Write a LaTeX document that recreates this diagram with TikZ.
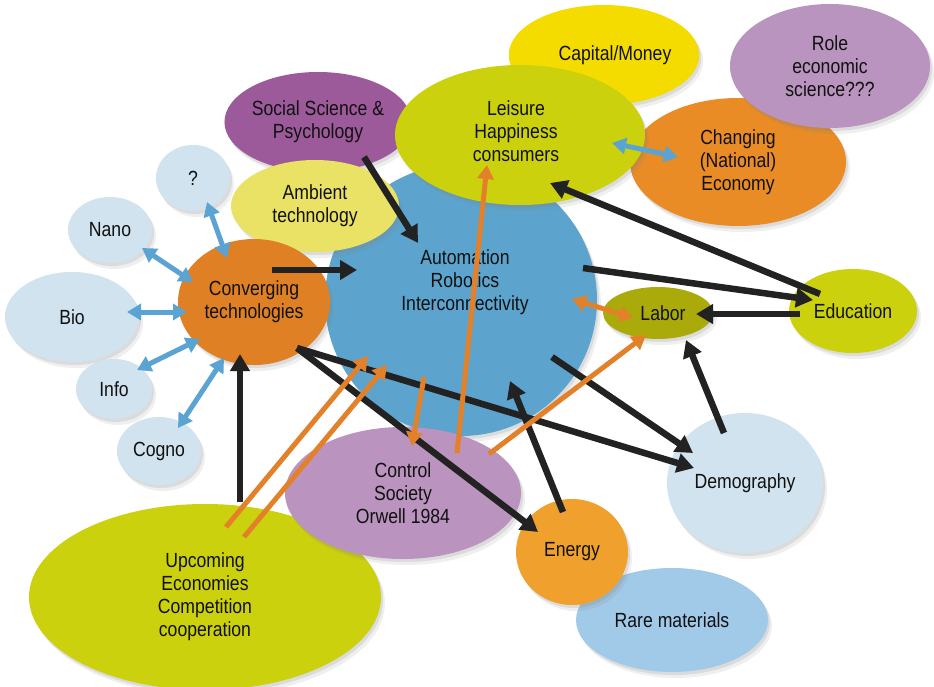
\documentclass[tikz,border=0pt]{standalone}
\usepackage{fontspec}
\setmainfont{Liberation Sans}[FakeStretch=0.86]
\usetikzlibrary{shapes.geometric,arrows.meta,shadows}
\definecolor{txt}{HTML}{111111}
\definecolor{cCap}{HTML}{F4DC00}
\definecolor{cRole}{HTML}{B994BE}
\definecolor{cChg}{HTML}{E98C26}
\definecolor{cLeis}{HTML}{CCD10E}
\definecolor{cSoc}{HTML}{9C5A9A}
\definecolor{cAmb}{HTML}{E9E264}
\definecolor{cAuto}{HTML}{5CA4CE}
\definecolor{cLight}{HTML}{D0E3EE}
\definecolor{cConv}{HTML}{E08024}
\definecolor{cLabor}{HTML}{AAAA0B}
\definecolor{cCtrl}{HTML}{BA94BE}
\definecolor{cEnergy}{HTML}{F0A02C}
\definecolor{cRare}{HTML}{A1C9E8}
\definecolor{aBlack}{HTML}{222222}
\definecolor{aOrange}{HTML}{E3812A}
\definecolor{aBlue}{HTML}{5AA3D2}
\begin{document}
\begin{tikzpicture}[x=1pt,y=-1pt,
  blob/.style={ellipse, inner sep=0pt, align=center, text=txt,
    font=\fontsize{20.5}{23}\selectfont,
    drop shadow={shadow xshift=2pt,shadow yshift=-3pt,opacity=.18},
    drop shadow={shadow xshift=4pt,shadow yshift=-6pt,opacity=.12}},
  lbl/.style={align=center, text=txt, inner sep=0pt, font=\fontsize{20.5}{23}\selectfont},
  blk/.style={draw=aBlack, line width=6.5pt, -{Triangle[length=17pt,width=19pt]}},
  org/.style={draw=aOrange, line width=5pt, -{Triangle[length=14pt,width=16pt]}},
  orgd/.style={draw=aOrange, line width=5pt, {Triangle[length=14pt,width=16pt]}-{Triangle[length=14pt,width=16pt]}},
  blu/.style={draw=aBlue, line width=5pt, {Triangle[length=14pt,width=16pt]}-{Triangle[length=14pt,width=16pt]}}
]
\useasboundingbox (0,0) rectangle (934,687);
\fill[white] (0,0) rectangle (934,687);

% back layer
\node[blob, fill=cCap, minimum width=168pt, minimum height=100pt] (cap) at (604,55) {\hspace*{22pt}Capital/Money};
\node[blob, fill=cChg, minimum width=216pt, minimum height=128pt] (chg) at (738,162) {Changing\\(National)\\Economy};
\node[blob, fill=cRole, minimum width=200pt, minimum height=124pt] (role) at (830,66) {Role\\economic\\science???};
\node[blob, fill=cSoc, minimum width=180pt, minimum height=100pt] (soc) at (318,122) {Social Science \&\\Psychology};
\node[blob, circle, fill=cAuto, minimum size=272pt] (auto) at (461,300) {};
\node[blob, fill=cAmb, minimum width=168pt, minimum height=92pt] (amb) at (315,206) {Ambient\\technology};
\node[blob, fill=cLeis, minimum width=250pt, minimum height=140pt] (leis) at (520,135) {};
\node[lbl] (leistxt) at (516,131) {Leisure\\Happiness\\consumers};
\node[lbl] (autotxt) at (465,282) {Automation\\Robotics\\Interconnectivity};

\node[blob, fill=cConv, minimum width=152pt, minimum height=126pt] (conv) at (254,302) {Converging\\technologies};
\node[blob, fill=cLight, minimum width=74pt, minimum height=66pt] (q) at (193,178) {?};
\node[blob, fill=cLight, minimum width=84pt, minimum height=66pt] (nano) at (110,230) {Nano};
\node[blob, fill=cLight, minimum width=134pt, minimum height=90pt] (bio) at (72,317) {Bio};
\node[blob, fill=cLight, minimum width=76pt, minimum height=60pt] (info) at (114,389) {Info};
\node[blob, fill=cLight, minimum width=84pt, minimum height=68pt] (cogno) at (159,451) {Cogno};

\node[blob, fill=cLeis, minimum width=352pt, minimum height=186pt] (upc) at (205,597) {Upcoming\\Economies\\Competition\\cooperation};
\node[blob, fill=cCtrl, minimum width=236pt, minimum height=132pt] (ctrl) at (403,493) {Control\\Society\\Orwell 1984};
\node[blob, fill=cLabor, minimum width=110pt, minimum height=52pt] (labor) at (658,313) {\hspace*{10pt}Labor};
\node[blob, fill=cLeis, minimum width=128pt, minimum height=84pt] (edu) at (853,311) {Education};
\node[blob, fill=cLight, minimum width=156pt, minimum height=140pt] (demo) at (745,483) {Demography};
\node[blob, fill=cRare, minimum width=192pt, minimum height=104pt] (rare) at (672,620) {Rare materials};
\node[blob, fill=cEnergy, minimum width=112pt, minimum height=106pt] (energy) at (572,552) {Energy};

% blue double arrows
\draw[blu] ([shift={(14,24)}]q.center) -- ([shift={(-27,-44)}]conv.center);
\draw[blu] ([shift={(32,18)}]nano.center) -- ([shift={(-61,-20)}]conv.center);
\draw[blu] ([shift={(55,-5)}]bio.center) -- ([shift={(-67,10)}]conv.center);
\draw[blu] ([shift={(23,-19)}]info.center) -- ([shift={(-54,37)}]conv.center);
\draw[blu] ([shift={(19,-23)}]cogno.center) -- ([shift={(-30,56)}]conv.center);
\draw[blu] ([shift={(92,8)}]leis.center) -- ([shift={(-60,-5)}]chg.center);

% black arrows
\draw[blk] ([shift={(18,-32)}]conv.center) -- ([shift={(-104,-30)}]auto.center);
\draw[blk] ([shift={(46,35)}]soc.center) -- ([shift={(-43,-57)}]auto.center);
\draw[blk] ([shift={(35,-95)}]upc.center) -- ([shift={(-14,52)}]conv.center);
\draw[blk] ([shift={(122,-32)}]auto.center) -- ([shift={(-40,-11)}]edu.center);
\draw[blk] ([shift={(-33,-17)}]edu.center) -- ([shift={(30,48)}]leis.center);
\draw[blk] ([shift={(-53,3)}]edu.center) -- ([shift={(38,1)}]labor.center);
\draw[blk] ([shift={(-21,-50)}]demo.center) -- ([shift={(28,27)}]labor.center);
\draw[blk] ([shift={(-9,-40)}]energy.center) -- ([shift={(49,81)}]auto.center);
\draw[blk] ([shift={(91,57)}]auto.center) -- ([shift={(-52,-30)}]demo.center);
\draw[blk] ([shift={(43,46)}]conv.center) -- ([shift={(-51,-15)}]demo.center);
\draw[blk] ([shift={(43,46)}]conv.center) -- ([shift={(-34,-20)}]energy.center);

% orange arrows
\draw[orgd] ([shift={(111,-1)}]auto.center) -- ([shift={(-25,5)}]labor.center);
\draw[org] ([shift={(21,-70)}]upc.center) -- ([shift={(-93,56)}]auto.center);
\draw[org] ([shift={(39,-60)}]upc.center) -- ([shift={(-74,65)}]auto.center);
\draw[org] ([shift={(-37,77)}]auto.center) -- ([shift={(9,-47)}]ctrl.center);
\draw[org] ([shift={(54,-40)}]ctrl.center) -- ([shift={(-33,30)}]leis.center);
\draw[org] ([shift={(86,-39)}]ctrl.center) -- ([shift={(-12,22)}]labor.center);
\end{tikzpicture}
\end{document}
